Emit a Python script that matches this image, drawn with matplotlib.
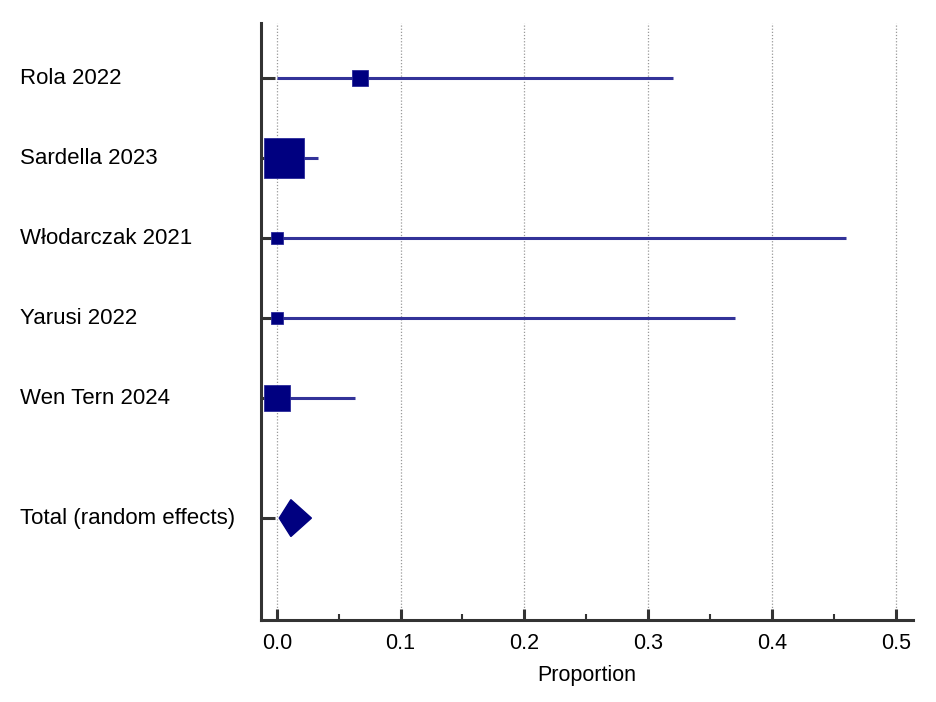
import matplotlib
matplotlib.use('Agg')
import matplotlib.pyplot as plt
import numpy as np
from matplotlib.patches import Polygon
from matplotlib.ticker import MultipleLocator
import matplotlib.transforms as mtransforms

plt.rcParams['font.family'] = ['Liberation Sans', 'DejaVu Sans']

# study data (proportion, 95% CI, weight %)
studies = ['Rola 2022', 'Sardella 2023', 'Włodarczak 2021', 'Yarusi 2022', 'Wen Tern 2024']
estimates = [0.067, 0.006, 0.0, 0.0, 0.0]
ci_low = [0.0, 0.0, 0.0, 0.0, 0.0]
ci_high = [0.320, 0.033, 0.460, 0.370, 0.063]
weights = [10.1, 53.4, 5.9, 5.9, 24.6]

total_label = 'Total (random effects)'
total_est = 0.0114
total_low = 0.002
total_high = 0.028

line_col = '#333399'
box_col = '#000080'
axis_col = '#333333'

fig = plt.figure(figsize=(9.37, 7.02), dpi=100)
ax = fig.add_axes([0.2786, 0.1161, 0.974 - 0.2786, 0.9672 - 0.1161])

ypos = np.arange(len(studies))
total_y = ypos[-1] + 1.5

# vertical dotted grid
for gx in np.arange(0, 0.51, 0.1):
    ax.axvline(gx, color='#999999', linestyle=(0, (1, 1.5)), linewidth=0.9, zorder=0)

# confidence intervals and weighted squares
for y, est, lo, hi, w in zip(ypos, estimates, ci_low, ci_high, weights):
    ax.plot([lo, hi], [y, y], color=line_col, linewidth=2.2, solid_capstyle='butt', zorder=2)
    size_px = 5.34 * np.sqrt(w)
    ax.plot(est, y, marker='s', markersize=size_px / 1.389, color=box_col,
            markeredgecolor='#2a2a99', markeredgewidth=0.6, zorder=3)

# pooled estimate diamond
h = 0.23
diamond = Polygon([[total_low, total_y], [total_est, total_y - h],
                   [total_high, total_y], [total_est, total_y + h]],
                  closed=True, facecolor=box_col, edgecolor=box_col, zorder=3)
ax.add_patch(diamond)

ax.set_xlim(-0.0127, 0.5137)
ax.set_ylim(6.78, -0.6875)

ax.spines['top'].set_visible(False)
ax.spines['right'].set_visible(False)
for s in ['left', 'bottom']:
    ax.spines[s].set_color(axis_col)
    ax.spines[s].set_linewidth(2.2)

ax.xaxis.set_major_locator(MultipleLocator(0.1))
ax.xaxis.set_minor_locator(MultipleLocator(0.05))
ax.set_xticks(np.arange(0, 0.51, 0.1))
ax.set_xticklabels(['0.0', '0.1', '0.2', '0.3', '0.4', '0.5'], fontsize=15.5)
ax.tick_params(axis='x', which='major', direction='in', length=8, width=2.2,
               color=axis_col, pad=9)
ax.tick_params(axis='x', which='minor', direction='in', length=4.5, width=1.5,
               color=axis_col)

ax.set_yticks(list(ypos) + [total_y])
ax.set_yticklabels([])
ax.tick_params(axis='y', direction='in', length=10, width=2.2, color=axis_col)

# study labels, left aligned near figure edge
trans = mtransforms.blended_transform_factory(fig.transFigure, ax.transData)
for y, name in zip(list(ypos) + [total_y], studies + [total_label]):
    ax.text(20 / 937, y, name, transform=trans, ha='left', va='center', fontsize=16)

ax.set_xlabel('Proportion', fontsize=15.5, labelpad=8)

fig.savefig('out.png', dpi=100, facecolor='white')
